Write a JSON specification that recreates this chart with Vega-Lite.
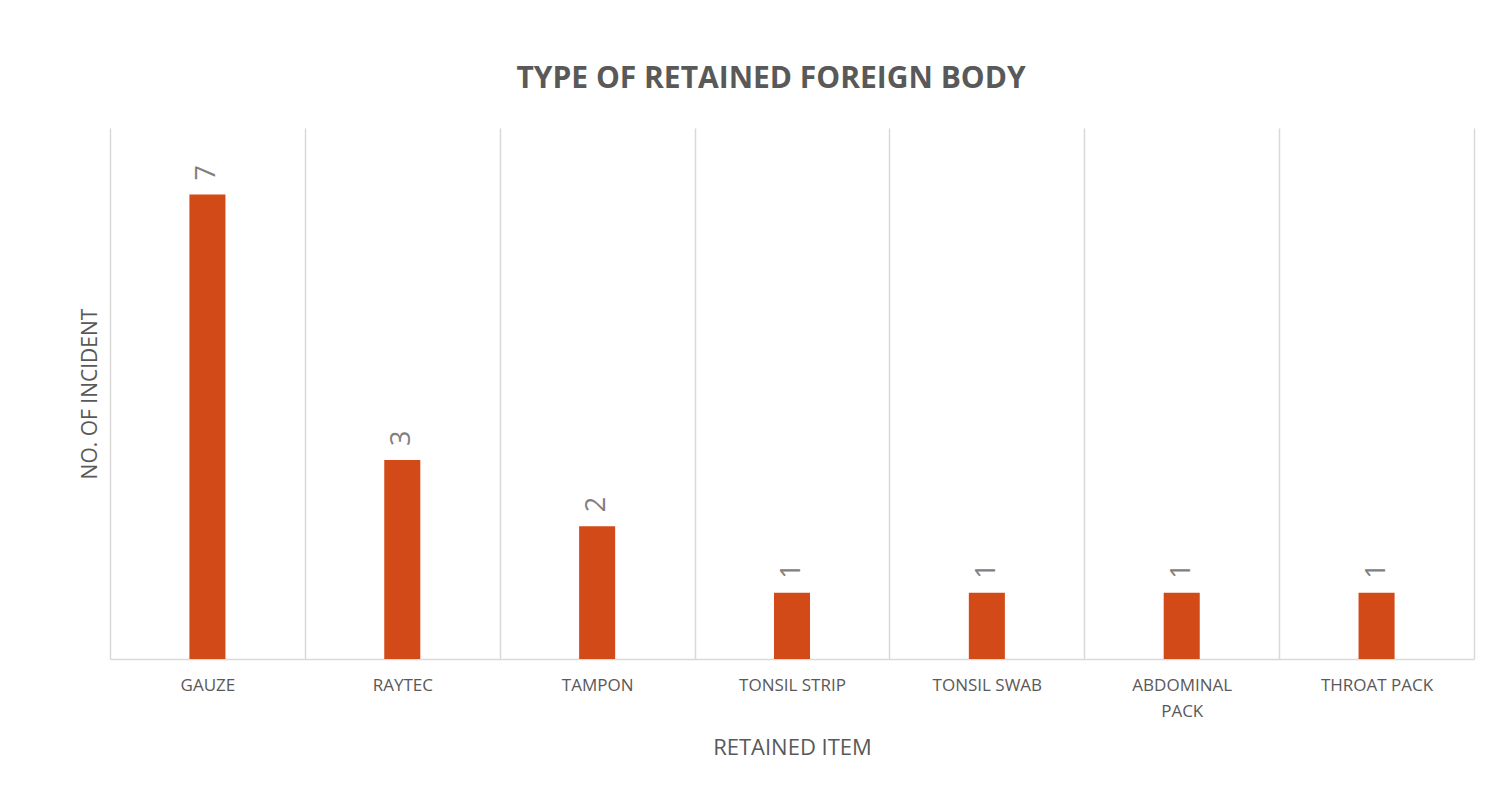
{
  "$schema": "https://vega.github.io/schema/vega-lite/v6.json",
  "width": 1364,
  "height": 531,
  "autosize": "none",
  "padding": {"left": 110, "top": 128, "right": 37, "bottom": 132},
  "background": "white",
  "title": {
    "text": "TYPE OF RETAINED FOREIGN BODY",
    "font": "Open Sans",
    "fontSize": 30,
    "fontWeight": "bold",
    "color": "#595959",
    "anchor": "middle",
    "baseline": "alphabetic",
    "dx": -21,
    "offset": 10
  },
  "data": {
    "values": [
      {"item": "GAUZE", "count": 7},
      {"item": "RAYTEC", "count": 3},
      {"item": "TAMPON", "count": 2},
      {"item": "TONSIL STRIP", "count": 1},
      {"item": "TONSIL SWAB", "count": 1},
      {"item": "ABDOMINAL PACK", "count": 1},
      {"item": "THROAT PACK", "count": 1}
    ]
  },
  "encoding": {
    "x": {
      "field": "item",
      "type": "nominal",
      "sort": null,
      "scale": {"paddingInner": 0, "paddingOuter": 0},
      "axis": {
        "title": "RETAINED ITEM",
        "titleFont": "Open Sans",
        "titleFontSize": 22,
        "titleFontWeight": "normal",
        "titleColor": "#595959",
        "titlePadding": 18,
        "labelFont": "Open Sans",
        "labelFontSize": 17,
        "labelColor": "#595959",
        "labelAngle": 0,
        "labelPadding": 18,
        "labelLineHeight": 26,
        "labelExpr": "datum.label == 'ABDOMINAL PACK' ? ['ABDOMINAL', 'PACK'] : datum.label",
        "ticks": false,
        "grid": true,
        "gridColor": "#d9d9d9",
        "gridWidth": 1.5,
        "tickBand": "extent",
        "domainColor": "#d9d9d9",
        "domainWidth": 1.5
      }
    },
    "y": {
      "field": "count",
      "type": "quantitative",
      "scale": {"domain": [0, 8]},
      "axis": {
        "title": "NO. OF INCIDENT",
        "titleFont": "Open Sans",
        "titleFontSize": 21,
        "titleFontWeight": "normal",
        "titleColor": "#595959",
        "titlePadding": 10,
        "labels": false,
        "ticks": false,
        "grid": false,
        "domain": false
      }
    }
  },
  "layer": [
    {"mark": {"type": "bar", "width": {"band": 0.185}, "color": "#D24A17"}},
    {
      "mark": {
        "type": "text",
        "angle": 270,
        "align": "left",
        "baseline": "middle",
        "dx": 14,
        "fontSize": 27,
        "font": "Open Sans",
        "color": "#808080"
      },
      "encoding": {"text": {"field": "count", "type": "quantitative"}}
    }
  ],
  "config": {"view": {"stroke": null}}
}
